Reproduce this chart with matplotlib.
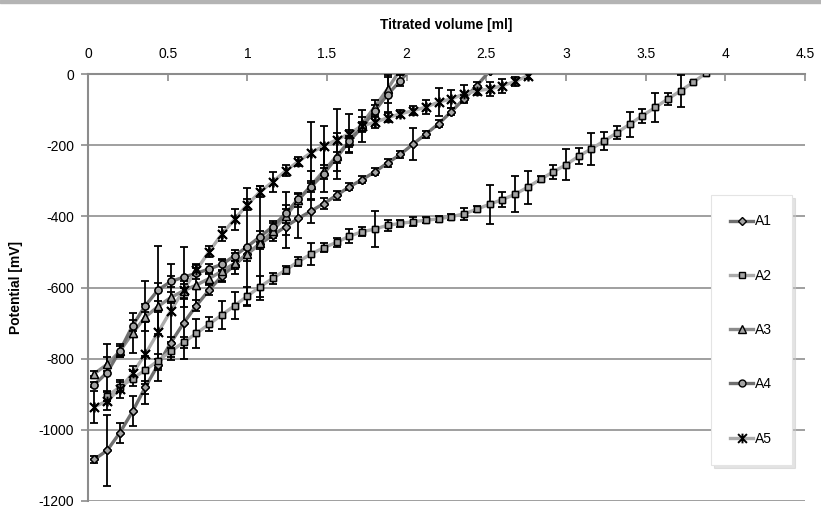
import matplotlib
matplotlib.use("Agg")
import matplotlib.pyplot as plt
from matplotlib.path import Path
from matplotlib.patches import Rectangle

# values: titrated volume [ml] vs potential [mV]
a1_x = [0.04, 0.12, 0.20, 0.28, 0.36, 0.44, 0.52, 0.60, 0.68, 0.76, 0.84,
        0.92, 1.00, 1.08, 1.16, 1.24, 1.32, 1.40, 1.48, 1.56, 1.64, 1.72,
        1.80, 1.88, 1.96, 2.04, 2.12, 2.20, 2.28, 2.36, 2.44, 2.52]
a1_y = [-1083, -1058, -1008, -948, -880, -817, -755, -700, -651, -607, -568,
        -537, -505, -477, -453, -429, -406, -385, -364, -341, -317, -297,
        -275, -250, -226, -197, -169, -140, -106, -70, -33, 8]
a1_err = [10, 100, 28, 42, 18, 15, 15, 100, 15, 15, 15,
          12, 12, 15, 15, 60, 55, 35, 15, 12, 10, 10,
          10, 10, 10, 45, 10, 10, 10, 10, 10, 0]

a2_x = [0.12, 0.20, 0.28, 0.36, 0.44, 0.52, 0.60, 0.68, 0.76, 0.84, 0.92,
        1.00, 1.08, 1.16, 1.24, 1.32, 1.40, 1.48, 1.56, 1.64, 1.72, 1.80,
        1.88, 1.96, 2.04, 2.12, 2.20, 2.28, 2.36, 2.44, 2.52, 2.60, 2.68,
        2.76, 2.84, 2.92, 3.00, 3.08, 3.16, 3.24, 3.32, 3.40, 3.48, 3.56,
        3.64, 3.72, 3.80, 3.88]
a2_y = [-905, -880, -856, -832, -806, -779, -754, -729, -703, -677, -651,
        -624, -598, -574, -551, -527, -506, -488, -473, -456, -443, -436,
        -425, -420, -415, -411, -407, -401, -393, -380, -366, -353, -338,
        -318, -296, -275, -255, -231, -210, -188, -165, -141, -117, -94,
        -70, -47, -23, 3]
a2_err = [15, 15, 20, 40, 20, 25, 15, 40, 20, 40, 37,
          25, 30, 15, 12, 12, 30, 12, 12, 20, 12, 51,
          15, 10, 12, 8, 8, 8, 17, 8, 55, 22, 50,
          46, 8, 20, 43, 22, 45, 25, 18, 35, 20, 40,
          16, 45, 0, 0]

a3_x = [0.04, 0.12, 0.20, 0.28, 0.36, 0.44, 0.52, 0.60, 0.68, 0.76, 0.84,
        0.92, 1.00, 1.08, 1.16, 1.24, 1.32, 1.40, 1.48, 1.56, 1.64, 1.72,
        1.80, 1.88, 1.96]
a3_y = [-842, -816, -779, -728, -683, -653, -628, -609, -593, -575, -554,
        -532, -506, -476, -440, -400, -355, -313, -272, -231, -188, -140,
        -92, -42, 12]
a3_err = [8, 20, 15, 55, 15, 15, 15, 20, 60, 15, 30,
          30, 20, 160, 20, 20, 20, 40, 60, 65, 30, 20,
          20, 40, 0]

a4_x = [0.04, 0.12, 0.20, 0.28, 0.36, 0.44, 0.52, 0.60, 0.68, 0.76, 0.84,
        0.92, 1.00, 1.08, 1.16, 1.24, 1.32, 1.40, 1.48, 1.56, 1.64, 1.72,
        1.80, 1.88, 1.96, 2.04]
a4_y = [-873, -839, -778, -707, -651, -607, -583, -571, -560, -548, -535,
        -511, -485, -457, -429, -392, -351, -317, -280, -235, -189, -149,
        -103, -58, -19, 22]
a4_err = [8, 80, 18, 15, 70, 125, 15, 85, 15, 15, 15,
          15, 166, 15, 15, 60, 15, 15, 15, 15, 15, 15,
          15, 50, 15, 0]

a5_x = [0.04, 0.12, 0.20, 0.28, 0.36, 0.44, 0.52, 0.60, 0.68, 0.76, 0.84,
        0.92, 1.00, 1.08, 1.16, 1.24, 1.32, 1.40, 1.48, 1.56, 1.64, 1.72,
        1.80, 1.88, 1.96, 2.04, 2.12, 2.20, 2.28, 2.36, 2.44, 2.52, 2.60,
        2.68, 2.76]
a5_y = [-935, -919, -885, -841, -787, -726, -665, -607, -551, -499, -450,
        -408, -367, -331, -303, -272, -246, -221, -202, -185, -168, -145,
        -136, -123, -112, -103, -93, -79, -70, -56, -47, -42, -33,
        -21, -5]
a5_err = [45, 25, 25, 20, 140, 138, 130, 25, 15, 15, 20,
          30, 15, 15, 28, 15, 12, 85, 55, 88, 55, 45,
          15, 12, 10, 12, 20, 40, 25, 25, 12, 20, 20,
          12, 10]

x_ticks = [0, 0.5, 1, 1.5, 2, 2.5, 3, 3.5, 4, 4.5]
x_tick_labels = ["0", "0.5", "1", "1.5", "2", "2.5", "3", "3.5", "4", "4.5"]
y_ticks = [-1200, -1000, -800, -600, -400, -200, 0]

# Excel style "star" marker: an X with a vertical stroke
STAR = Path([(-1, -1), (1, 1), (-1, 1), (1, -1), (0, -1.1), (0, 1.1)],
            [Path.MOVETO, Path.LINETO, Path.MOVETO, Path.LINETO,
             Path.MOVETO, Path.LINETO])


def main():
    plt.rcParams["font.family"] = ["Liberation Sans", "DejaVu Sans"]
    plt.rcParams["axes.unicode_minus"] = False

    fig = plt.figure(figsize=(8.21, 5.09), dpi=100)
    ax = fig.add_axes([88 / 821, 8 / 509, 717 / 821, 427 / 509])

    series = [
        ("A1", a1_x, a1_y, a1_err, "#6f6f6f", "D", 4.2, 1.0),
        ("A2", a2_x, a2_y, a2_err, "#ababab", "s", 4.5, 1.0),
        ("A3", a3_x, a3_y, a3_err, "#8b8b8b", "^", 5.6, 1.0),
        ("A4", a4_x, a4_y, a4_err, "#6f6f6f", "o", 5.0, 1.0),
        ("A5", a5_x, a5_y, a5_err, "#ababab", STAR, 7.0, 1.4),
    ]

    for name, xs, ys, err, color, marker, size, edge in series:
        ax.plot(xs, ys, color=color, lw=2.4, marker=marker, ms=size,
                mfc="#a4a4a4", mec="black", mew=edge, label=name, zorder=2)
        ax.errorbar(xs, ys, yerr=err, fmt="none", ecolor="black",
                    elinewidth=1.3, capsize=2.6, capthick=1.3, zorder=3)
        ax.plot(xs, ys, ls="none", marker=marker, ms=size, mfc="#a4a4a4",
                mec="black", mew=edge, zorder=4)

    ax.set_xlim(0, 4.5)
    ax.set_ylim(-1200, 0)
    ax.xaxis.tick_top()
    ax.xaxis.set_label_position("top")
    ax.set_xticks(x_ticks)
    ax.set_xticklabels(x_tick_labels)
    ax.set_yticks(y_ticks)
    ax.tick_params(axis="x", direction="in", length=5, width=1.2,
                   color="#8c8c8c", labelsize=10, pad=9)
    ax.tick_params(axis="y", direction="out", length=5, width=1.2,
                   color="#8c8c8c", labelsize=10, pad=5)

    ax.grid(axis="y", color="#9f9f9f", lw=1.4)
    ax.set_axisbelow(True)
    for side in ("right", "bottom"):
        ax.spines[side].set_visible(False)
    for side in ("left", "top"):
        ax.spines[side].set_color("#8c8c8c")
        ax.spines[side].set_linewidth(1.5)

    ax.set_xlabel("Titrated volume [ml]", fontsize=10, fontweight="bold",
                  labelpad=13)
    ax.set_ylabel("Potential [mV]", fontsize=10, fontweight="bold",
                  labelpad=11)

    leg = ax.legend(loc="upper left", bbox_to_anchor=(711 / 821, 1 - 195 / 509),
                    bbox_transform=fig.transFigure, borderaxespad=0,
                    fontsize=10, numpoints=1, labelspacing=2.9,
                    borderpad=1.4, handlelength=1.65, handletextpad=0.15,
                    fancybox=False, framealpha=1,
                    shadow={"ox": 2, "oy": -2, "color": "#c8c8c8"})
    leg.get_frame().set_edgecolor("#e4e4e4")
    leg.get_frame().set_linewidth(0.8)
    leg.set_zorder(10)

    # thin grey border strip along the top of the picture
    fig.add_artist(Rectangle((0, 1 - 3 / 509), 1, 3 / 509,
                             transform=fig.transFigure, color="#b4b4b4"))

    fig.savefig("out.png", dpi=100)


if __name__ == "__main__":
    main()
